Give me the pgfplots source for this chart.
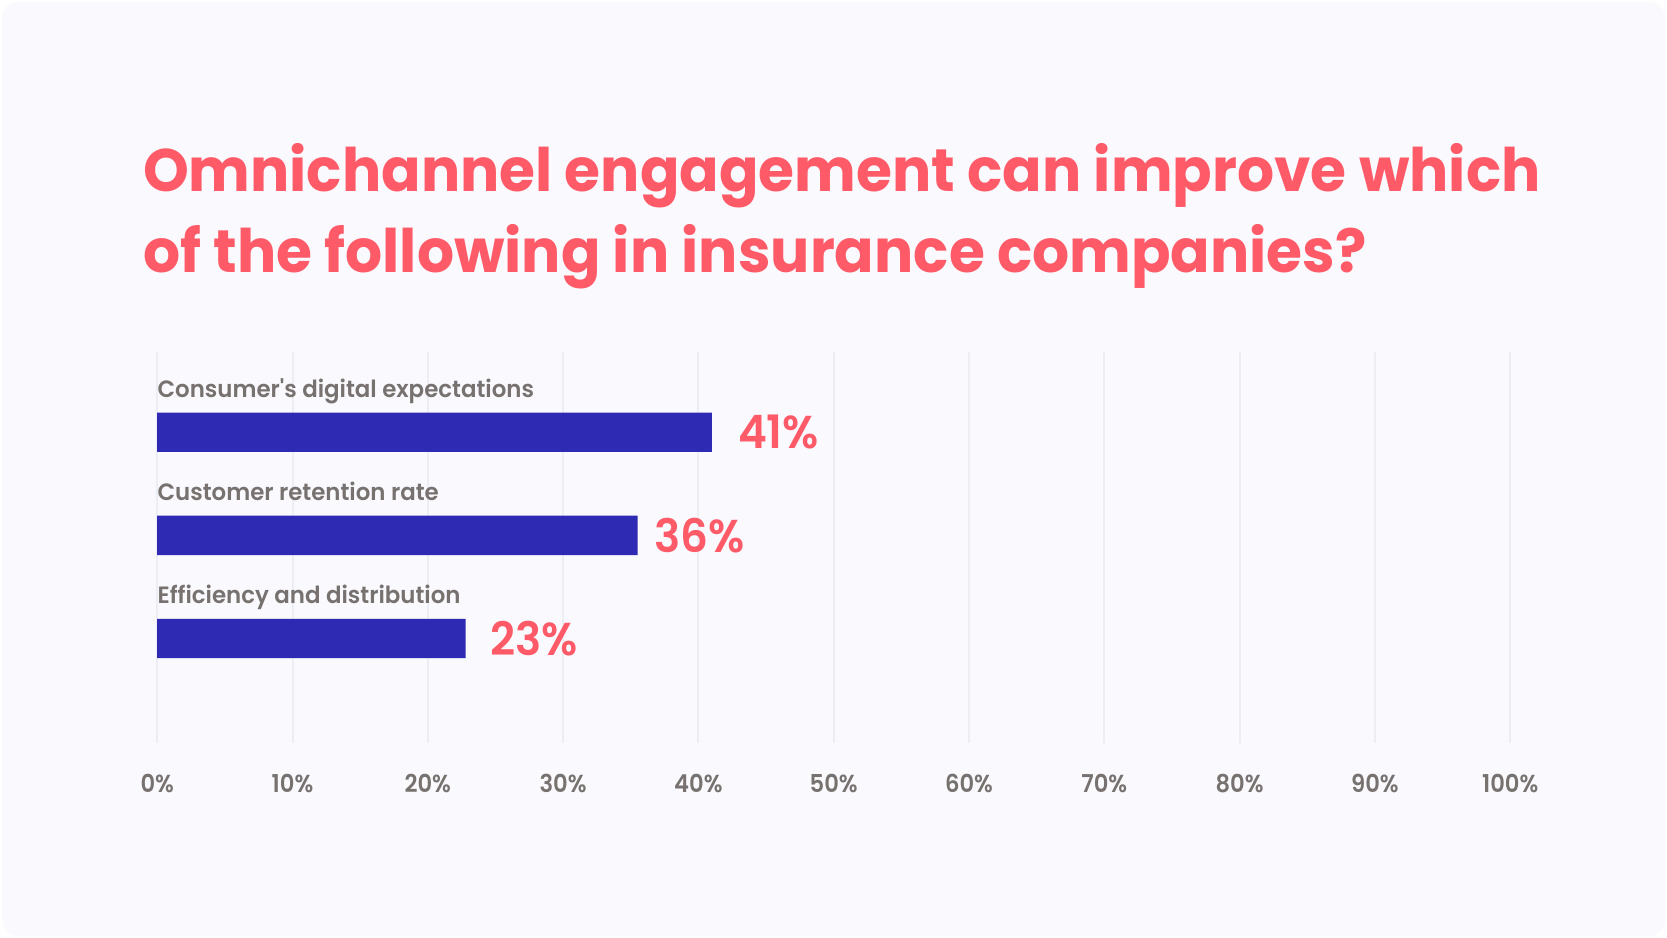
\documentclass[border=0pt]{standalone}
\usepackage{pgfplots}
\pgfplotsset{compat=1.18}
\usepackage{fontspec}
\setmainfont{Poppins}
\newfontfamily\ptitle{Poppins Bold}[FakeStretch=0.971]
\newfontfamily\pval{Poppins SemiBold}[FakeStretch=0.95]
\newfontfamily\pcat{Poppins SemiBold}[FakeStretch=0.97]
\newfontfamily\ptick{Poppins SemiBold}[FakeStretch=0.92]
\definecolor{coral}{HTML}{FF5A67}
\definecolor{barc}{HTML}{2E2AB4}
\definecolor{labc}{HTML}{77726F}
\definecolor{gridc}{HTML}{ECEEF3}
\definecolor{bgc}{HTML}{F9F9FE}
\begin{document}
\begin{tikzpicture}
\fill[white] (0,0) rectangle (833.5pt,469pt);
\fill[bgc, rounded corners=8pt] (1pt,1pt) rectangle (832.5pt,468pt);
\node[anchor=base west, inner sep=0, text=coral, font=\ptitle\fontsize{30}{36}\selectfont] at (71.3pt,373.15pt) {Omnichannel engagement can improve which};
\node[anchor=base west, inner sep=0, text=coral, font=\ptitle\fontsize{30}{36}\selectfont] at (71.3pt,332.5pt) {of the following in insurance companies?};
\begin{axis}[
  at={(78.6pt,97.5pt)}, anchor=south west, scale only axis,
  width=676.5pt, height=195.5pt,
  xmin=0, xmax=100, ymin=-1.013, ymax=2.778,
  xbar, bar width=19.7pt, bar shift=0pt,
  xtick={0,10,...,100},
  xticklabels={0\%,10\%,20\%,30\%,40\%,50\%,60\%,70\%,80\%,90\%,100\%},
  ytick=\empty, axis line style={draw=none}, major tick length=0pt,
  xmajorgrids, grid style={line width=1pt, gridc},
  xticklabel style={font=\ptick\fontsize{12.3}{14}\selectfont, text=labc, anchor=base, inner sep=0pt, yshift=-24.75pt},
  clip=false,
]
\addplot[fill=barc, draw=none] coordinates {(41,2) (35.5,1) (22.8,0)};
\node[anchor=west, inner sep=0pt, font=\pval\fontsize{23}{26}\selectfont, text=coral] at (axis cs:42.9,2) {41\%};
\node[anchor=west, inner sep=0pt, font=\pval\fontsize{23}{26}\selectfont, text=coral] at (axis cs:36.7,1) {36\%};
\node[anchor=west, inner sep=0pt, font=\pval\fontsize{23}{26}\selectfont, text=coral] at (axis cs:24.57,0) {23\%};
\node[anchor=base west, inner sep=0pt, yshift=17.6pt, font=\pcat\fontsize{11.8}{13}\selectfont, text=labc] at (axis cs:0,2) {Consumer's digital expectations};
\node[anchor=base west, inner sep=0pt, yshift=17.6pt, font=\pcat\fontsize{11.8}{13}\selectfont, text=labc] at (axis cs:0,1) {Customer retention rate};
\node[anchor=base west, inner sep=0pt, yshift=17.6pt, font=\pcat\fontsize{11.8}{13}\selectfont, text=labc] at (axis cs:0,0) {Efficiency and distribution};
\end{axis}
\end{tikzpicture}
\end{document}
